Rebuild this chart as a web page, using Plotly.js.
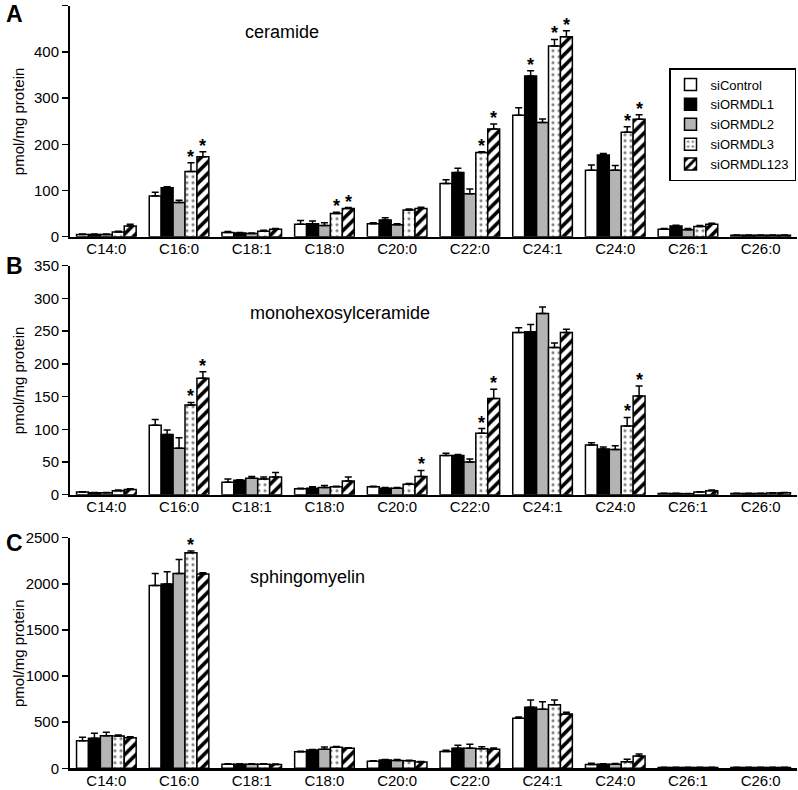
<!DOCTYPE html>
<html><head><meta charset="utf-8">
<script src="https://cdn.plot.ly/plotly-3.0.1.min.js"></script>
<style>html,body{margin:0;padding:0;background:#fff}#chart{width:798px;height:790px}</style>
</head><body><div id="chart"></div>
<script>
const categories = ['C14:0','C16:0','C18:1','C18:0','C20:0','C22:0','C24:1','C24:0','C26:1','C26:0'];
const seriesNames = ['siControl','siORMDL1','siORMDL2','siORMDL3','siORMDL123'];
const panelTitles = ['ceramide','monohexosylceramide','sphingomyelin'];
const panelLetters = ['A','B','C'];

// Panel A: ceramide
const cerControl   = [5, 88, 9, 27, 28, 115, 263, 144, 16, 3];
const cerControlE  = [1, 8, 2, 8, 2, 8, 16, 11, 2, 0.5];
const cerO1        = [5, 106, 8, 28, 36, 139, 348, 177, 23, 3];
const cerO1E       = [1, 2, 1, 6, 5, 9, 11, 3, 2, 0.5];
const cerO2        = [5, 74, 7, 24, 26, 93, 247, 144, 15, 3];
const cerO2E       = [1, 5, 1, 6, 2, 10, 8, 10, 3, 0.5];
const cerO3        = [10, 141, 12, 50, 58, 182, 413, 226, 22, 3];
const cerO3E       = [2, 19, 2, 3, 2, 2, 14, 12, 2, 0.5];
const cerO123      = [23, 173, 16, 61, 61, 233, 433, 254, 27, 3];
const cerO123E     = [4, 11, 2, 2, 3, 11, 13, 10, 2, 0.5];
const cerSig = {siORMDL1: ['C24:1'], siORMDL3: ['C16:0','C18:0','C22:0','C24:1','C24:0'], siORMDL123: ['C16:0','C18:0','C22:0','C24:1','C24:0']};

// Panel B: monohexosylceramide
const hexControl   = [4, 106, 19, 9, 12, 60, 248, 76, 2, 2];
const hexControlE  = [0.5, 9, 5, 1, 1, 3.5, 7, 3.5, 0.3, 0.3];
const hexO1        = [3, 92, 22, 10, 10, 60, 249, 70, 2, 2];
const hexO1E       = [0.5, 7, 1, 2, 1, 1.5, 11, 3, 0.3, 0.3];
const hexO2        = [3, 71, 25, 11, 10, 50, 277, 69, 1.5, 2];
const hexO2E       = [0.5, 16, 3, 3, 1, 4.5, 10, 6, 0.3, 0.3];
const hexO3        = [6, 137, 24, 12, 16, 94, 225, 105, 4, 2.5];
const hexO3E       = [1, 4, 3, 1, 1, 7, 7, 13, 0.5, 0.3];
const hexO123      = [8, 178, 27, 21, 28, 147, 248, 151, 6, 3];
const hexO123E     = [1, 10, 7, 6, 9, 14, 5, 15, 1, 0.3];
const hexSig = {siORMDL3: ['C16:0','C22:0','C24:0'], siORMDL123: ['C16:0','C20:0','C22:0','C24:0']};

// Panel C: sphingomyelin
const smControl    = [300, 1983, 45, 180, 76, 181, 542, 40, 10, 10];
const smControlE   = [36, 130, 5, 5, 5, 15, 15, 14, 2, 2];
const smO1         = [325, 1998, 45, 199, 90, 217, 661, 43, 10, 10];
const smO1E        = [54, 133, 5, 5, 5, 32, 80, 5, 2, 2];
const smO2         = [354, 2113, 45, 206, 85, 217, 639, 43, 10, 10];
const smO2E        = [36, 152, 5, 25, 10, 43, 83, 10, 2, 2];
const smO3         = [350, 2337, 45, 228, 83, 213, 690, 72, 10, 10];
const smO3E        = [10, 18, 5, 8, 5, 20, 50, 25, 2, 2];
const smO123       = [332, 2106, 42, 217, 69, 206, 589, 134, 10, 10];
const smO123E      = [10, 14, 5, 5, 5, 15, 20, 20, 2, 2];
const smSig = {siORMDL3: ['C16:0']};

const yRanges = [[0,500],[0,350],[0,2500]];
const yDtick = [100, 50, 500];

const panels = [
  {vals:[cerControl,cerO1,cerO2,cerO3,cerO123], errs:[cerControlE,cerO1E,cerO2E,cerO3E,cerO123E], sig:cerSig},
  {vals:[hexControl,hexO1,hexO2,hexO3,hexO123], errs:[hexControlE,hexO1E,hexO2E,hexO3E,hexO123E], sig:hexSig},
  {vals:[smControl,smO1,smO2,smO3,smO123], errs:[smControlE,smO1E,smO2E,smO3E,smO123E], sig:smSig}
];

const FONT = 'Arial, "Liberation Sans", sans-serif';
const H = 790, L = 70;
// pixel rows of y-axis top & zero for each panel
const pix = [[5.7,236.7],[265.7,494.7],[537.7,768.3]];
const styles = [
  {color:'#ffffff'},
  {color:'#000000'},
  {color:'#b4b4b4'},
  {color:'#ffffff', pattern:{shape:'.', fgcolor:'#808080', bgcolor:'#ffffff', size:6, solidity:0.22}},
  {color:'#ffffff', pattern:{shape:'/', fgcolor:'#000000', bgcolor:'#ffffff', size:8, solidity:0.45}}
];
const bargap = 0.18;
const bw = (1-bargap)/5;

const traces = [];
const annotations = [];
const layout = {
  width:798, height:790,
  margin:{l:L, r:1, t:0, b:0},
  paper_bgcolor:'#fff', plot_bgcolor:'#fff',
  barmode:'group', bargap:bargap, bargroupgap:0,
  font:{family:FONT, color:'#000', size:14},
  showlegend:true,
  legend:{x:(669-L)/727, y:1-68/H, xanchor:'left', yanchor:'top', bordercolor:'#000', borderwidth:1.5,
          bgcolor:'#fff', font:{family:FONT, size:13}, tracegroupgap:0, itemwidth:30},
  annotations: annotations
};

panels.forEach((p, pi) => {
  const ax = pi===0 ? '' : String(pi+1);
  const dom = [1-pix[pi][1]/H, 1-pix[pi][0]/H];
  layout['xaxis'+ax] = {domain:[0,1], anchor:'y'+ax, type:'category', showline:true, linecolor:'#000', linewidth:2.5,
    ticks:'', tickfont:{family:FONT, size:15}, ticklabelstandoff:-3, showgrid:false, zeroline:false, fixedrange:true};
  layout['yaxis'+ax] = {domain:dom, anchor:'x'+ax, range:yRanges[pi], dtick:yDtick[pi], tick0:0, showline:true,
    linecolor:'#000', linewidth:2, ticks:'outside', ticklen:6, tickwidth:1.5, tickcolor:'#000',
    tickfont:{family:FONT, size:15}, showgrid:false, zeroline:false, fixedrange:true};
  seriesNames.forEach((name, si) => {
    traces.push({
      type:'bar', name:name, x:categories, y:p.vals[si], xaxis:'x'+ax, yaxis:'y'+ax,
      showlegend: pi===0, legendgroup:name,
      marker:Object.assign({line:{color:'#000', width:1.5}}, styles[si]),
      error_y:{type:'data', symmetric:false, array:p.errs[si], arrayminus:p.errs[si].map(()=>0),
               color:'#000', thickness:1.5, width:3.5}
    });
    const sigCats = p.sig[name] || [];
    sigCats.forEach(c => {
      const ci = categories.indexOf(c);
      annotations.push({xref:'x'+ax, yref:'y'+ax, x: ci - (1-bargap)/2 + (si+0.5)*bw,
        y: p.vals[si][ci] + p.errs[si][ci], text:'*', showarrow:false, yanchor:'bottom', yshift:-6,
        font:{family:FONT, size:18, color:'#000', weight:'bold'}});
    });
  });
  // panel title
  const titleX = [282, 340, 307][pi];
  const titleY = [32, 313, 577][pi];
  annotations.push({xref:'paper', yref:'paper', x:(titleX-L)/727, y:1-titleY/H, text:panelTitles[pi], showarrow:false,
    xanchor:'center', yanchor:'middle', font:{family:FONT, size:18}});
  // panel letter
  const letterY = [14, 266, 543][pi];
  annotations.push({xref:'paper', yref:'paper', x:(14-L)/727, y:1-letterY/H, text:'<b>'+panelLetters[pi]+'</b>', showarrow:false,
    xanchor:'center', yanchor:'middle', font:{family:FONT, size:23}});
  // y title
  annotations.push({xref:'paper', yref:'paper', x:(18-L)/727, y:1-((pix[pi][0]+pix[pi][1])/2)/H, text:'pmol/mg protein',
    textangle:-90, showarrow:false, xanchor:'center', yanchor:'middle', font:{family:FONT, size:15}});
});

Plotly.newPlot('chart', traces, layout, {staticPlot:true});
</script></body></html>
